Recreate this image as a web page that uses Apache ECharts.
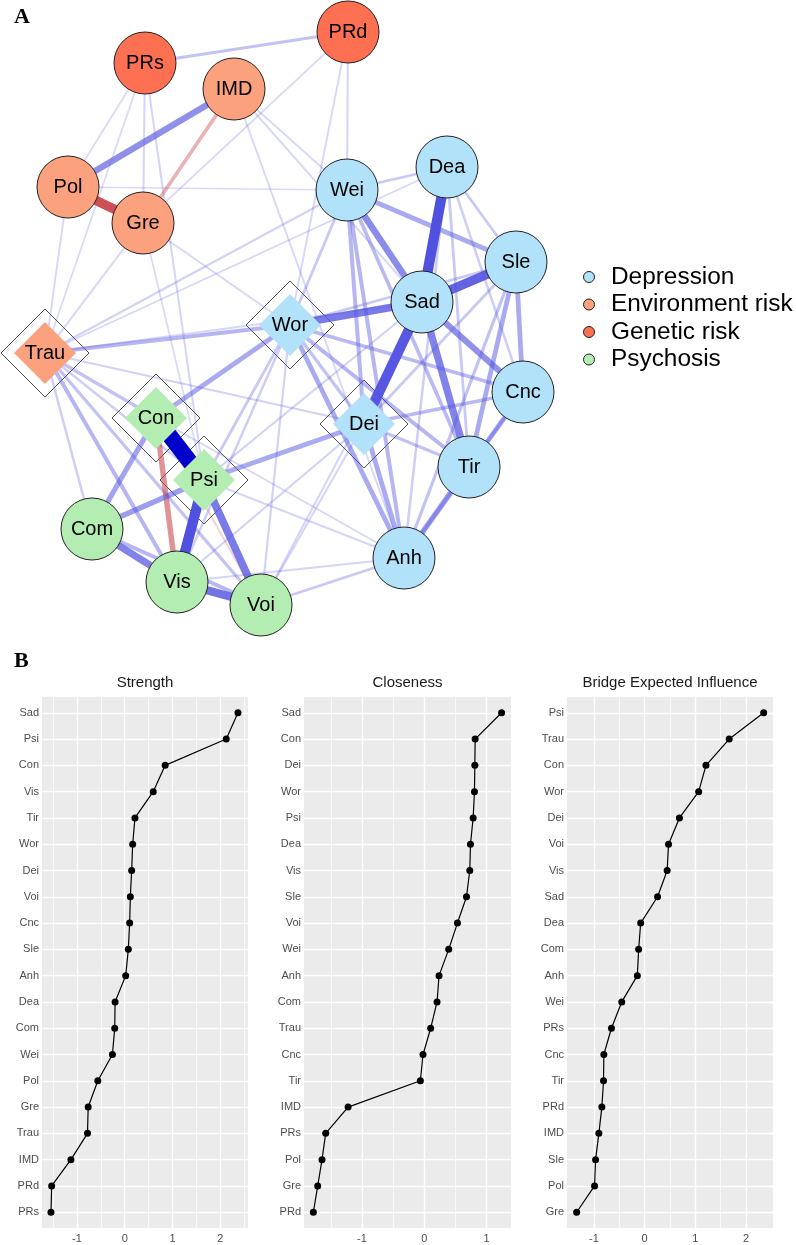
<!DOCTYPE html>
<html><head><meta charset="utf-8">
<script src="https://cdn.jsdelivr.net/npm/echarts@6/dist/echarts.min.js"></script>
<style>html,body{margin:0;padding:0;background:#fff}#c{width:796px;height:1245px}</style>
</head><body><div id="c"></div>
<script>
// ---------- Panel A: network ----------
const nodeNames  = ['PRs','PRd','IMD','Pol','Gre','Wei','Dea','Sle','Sad','Cnc','Tir','Anh','Wor','Dei','Trau','Con','Psi','Com','Vis','Voi'];
const nodeGroups = ['Genetic risk','Genetic risk','Environment risk','Environment risk','Environment risk',
  'Depression','Depression','Depression','Depression','Depression','Depression','Depression','Depression','Depression',
  'Environment risk','Psychosis','Psychosis','Psychosis','Psychosis','Psychosis'];
const layoutX = [145,348,234,68,143,347,447,516,422,523,469,404,290,364,45,156,204,92,177,261];
const layoutY = [63,32,89,187,223,190,167,262,302,392,467,558,325,424,353,418,480,529,582,605];
const bridgeNodes = ['Wor','Dei','Trau','Con','Psi'];
const groupNames = ['Depression','Environment risk','Genetic risk','Psychosis'];

const edgeFrom = ['Con','Sad','Sad','Psi','Sad','Pol','Vis','Psi','Sad','Sad','Com','Wei','Sad','IMD','Con','Com','Com','Psi','Con','Wei',
  'IMD','Tir','Sle','Sle','Cnc','Trau','Trau','Trau','Trau','Wor','Dei','Wei','Wor','Wor','Dei','Dei','Wei','Wei','Wei','Dea',
  'Dea','Dea','Dea','Dea','Sle','Sle','Sle','Cnc','Anh','Anh','Anh','Anh','PRs','PRs','PRs','PRs','PRd','PRd','PRd','IMD',
  'IMD','IMD','Trau','Trau','Trau','Trau','Trau','Trau','Trau','Trau','Pol','Gre','Psi','Vis','Voi','Vis','Voi','Voi','Psi','Con',
  'Gre','Trau','Com','Wor'];
const edgeTo = ['Psi','Dea','Dei','Vis','Sle','Gre','Voi','Voi','Wor','Tir','Vis','Sad','Cnc','Pol','Vis','Psi','Con','Dei','Wor','Sle',
  'Gre','Anh','Cnc','Tir','Tir','Wor','Vis','Voi','Con','Anh','Anh','Anh','Tir','Cnc','Cnc','Tir','Dei','Tir','Wor','Wei',
  'Sle','Cnc','Tir','Anh','Anh','Wor','Dei','Anh','Voi','Vis','Psi','Con','PRd','Gre','Pol','Psi','Wei','Wor','Gre','Wei',
  'Sad','Anh','Pol','Gre','PRs','Wei','Dea','Sad','Dei','Com','Wei','Wor','Wor','Wor','Wor','Dei','Dei','Sad','Sad','Voi',
  'Psi','Psi','Voi','Dei'];
const edgeWeight = [1.0,0.62,0.6,0.62,0.55,-0.55,0.48,0.45,0.45,0.42,0.42,0.38,0.35,0.36,-0.3,0.3,0.28,0.25,0.25,0.25,
  -0.18,0.3,0.25,0.25,0.25,0.2,0.2,0.15,0.15,0.25,0.25,0.2,0.2,0.18,0.18,0.15,0.2,0.18,0.12,0.12,
  0.12,0.1,0.12,0.1,0.15,0.12,0.12,0.15,0.12,0.07,0.07,0.06,0.15,0.07,0.05,0.07,0.07,0.06,0.05,0.06,
  0.06,0.06,0.06,0.07,0.05,0.08,0.06,0.06,0.08,0.1,0.05,0.06,0.12,0.1,0.08,0.08,0.07,0.07,0.08,-0.06,
  0.05,0.1,0.2,0.15];

// ---------- Panel B: centrality ----------
const strengthNames  = ['Sad','Psi','Con','Vis','Tir','Wor','Dei','Voi','Cnc','Sle','Anh','Dea','Com','Wei','Pol','Gre','Trau','IMD','PRd','PRs'];
const strengthValues = [2.37,2.125,0.847,0.597,0.215,0.167,0.146,0.118,0.104,0.076,0.021,-0.201,-0.208,-0.257,-0.562,-0.764,-0.778,-1.125,-1.528,-1.542];
const closenessNames  = ['Sad','Con','Dei','Wor','Psi','Dea','Vis','Sle','Voi','Wei','Anh','Com','Trau','Cnc','Tir','IMD','PRs','Pol','Gre','PRd'];
const closenessValues = [1.239,0.815,0.81,0.804,0.783,0.74,0.729,0.676,0.531,0.391,0.236,0.204,0.102,-0.021,-0.064,-1.223,-1.582,-1.641,-1.71,-1.78];
const beiNames  = ['Psi','Trau','Con','Wor','Dei','Voi','Vis','Sad','Dea','Com','Anh','Wei','PRs','Cnc','Tir','PRd','IMD','Sle','Pol','Gre'];
const beiValues = [2.346,1.667,1.209,1.065,0.686,0.471,0.444,0.255,-0.078,-0.118,-0.144,-0.451,-0.654,-0.804,-0.81,-0.843,-0.902,-0.967,-0.987,-1.34];
const strengthTicks  = [-1,0,1,2];
const closenessTicks = [-1,0,1];
const beiTicks       = [-1,0,1,2];
const panelTitles = ['Strength','Closeness','Bridge Expected Influence'];

// ---------- styling ----------
const FONT = '"Liberation Sans", Arial, sans-serif';
const palette = {'Depression':'#B2E2FA','Environment risk':'#FCA17D','Genetic risk':'#FD7052','Psychosis':'#B3EDB1'};

function edgeStyle(w) {
  const aw = Math.abs(w);
  const a = Math.min(1, 0.15 + 1.4 * aw);
  let rgb;
  if (w >= 0) {
    const t = Math.max(0, (aw - 0.6) / 0.4);
    rgb = [Math.round(85 * (1 - t)), Math.round(85 * (1 - t)), Math.round(225 + (204 - 225) * t)];
  } else {
    rgb = [200, 65, 70];
  }
  return {color: 'rgba(' + rgb.join(',') + ',' + a.toFixed(3) + ')', width: 1 + 15 * aw, opacity: 1, cap: 'round', curveness: 0};
}

const idx = n => nodeNames.indexOf(n);
const graphNodes = nodeNames.map((n, i) => {
  const bridge = bridgeNodes.includes(n);
  return {
    name: n, value: [layoutX[i], layoutY[i]],
    category: groupNames.indexOf(nodeGroups[i]),
    symbol: bridge ? 'diamond' : 'circle', symbolSize: 62,
    itemStyle: bridge ? {borderWidth: 0} : {borderColor: '#222', borderWidth: 1}
  };
});
const order = edgeWeight.map((w, i) => i).sort((a, b) => Math.abs(edgeWeight[a]) - Math.abs(edgeWeight[b]));
const graphLinks = order.map(i => ({source: edgeFrom[i], target: edgeTo[i], lineStyle: edgeStyle(edgeWeight[i])}));
const outerDiamonds = bridgeNodes.map(n => [layoutX[idx(n)], layoutY[idx(n)]]);

const grids = [{left: 0, top: 0, width: 796, height: 640, show: false}];
const xAxes = [{type: 'value', gridIndex: 0, min: 0, max: 796, show: false}];
const yAxes = [{type: 'value', gridIndex: 0, min: 0, max: 640, inverse: true, show: false}];
const series = [
  {type: 'scatter', xAxisIndex: 0, yAxisIndex: 0, data: outerDiamonds, symbol: 'diamond', symbolSize: 88,
   itemStyle: {color: '#fff', borderColor: '#222', borderWidth: 1}, z: 1, silent: true, animation: false},
  {type: 'graph', coordinateSystem: 'cartesian2d', xAxisIndex: 0, yAxisIndex: 0, layout: 'none', z: 3,
   categories: groupNames.map(g => ({name: g, itemStyle: {color: palette[g], borderColor: '#222', borderWidth: 1}})),
   data: graphNodes, links: graphLinks, silent: true, animation: false,
   label: {show: true, position: 'inside', fontSize: 20, color: '#000', fontFamily: FONT},
   emphasis: {disabled: true}}
];

const panels = [
  {names: strengthNames, values: strengthValues, ticks: strengthTicks, min: -1.73, max: 2.58, left: 42, width: 206},
  {names: closenessNames, values: closenessValues, ticks: closenessTicks, min: -1.93, max: 1.39, left: 304, width: 207},
  {names: beiNames, values: beiValues, ticks: beiTicks, min: -1.53, max: 2.53, left: 567, width: 206}
];
const PT = 697, PH = 531;
const graphics = [];
panels.forEach((p, k) => {
  const gi = k + 1;
  const catIdx = p.names.map((n, i) => i);
  grids.push({left: p.left, top: PT, width: p.width, height: PH, show: true, backgroundColor: '#EBEBEB', borderWidth: 0});
  xAxes.push({type: 'value', gridIndex: gi, min: p.min, max: p.max,
    axisLine: {show: false},
    axisTick: {show: true, customValues: p.ticks, length: 4, lineStyle: {color: '#333', width: 1}},
    axisLabel: {customValues: p.ticks, color: '#4D4D4D', fontSize: 11, margin: 5, fontFamily: FONT},
    splitLine: {show: false}});
  yAxes.push({type: 'value', gridIndex: gi, min: -0.6, max: 19.6, inverse: true,
    axisLine: {show: false},
    axisTick: {show: true, customValues: catIdx, length: 4, lineStyle: {color: '#333', width: 1}},
    axisLabel: {customValues: catIdx, color: '#4D4D4D', fontSize: 11, margin: 3, fontFamily: FONT,
      formatter: v => p.names[Math.round(v)]},
    splitLine: {show: false}});
  const mdata = [];
  catIdx.forEach(i => mdata.push({yAxis: i, lineStyle: {width: 1.4}}));
  p.ticks.forEach(t => mdata.push({xAxis: t, lineStyle: {width: 1.4}}));
  for (let m = Math.floor(p.min) + 0.5; m < p.max; m += 1) {
    if (m > p.min + 0.04 && m < p.max - 0.04) mdata.push({xAxis: m, lineStyle: {width: 0.7}});
  }
  series.push({type: 'line', xAxisIndex: gi, yAxisIndex: gi, data: p.values.map((v, i) => [v, i]),
    symbol: 'none', lineStyle: {opacity: 0}, silent: true, z: 1, animation: false,
    markLine: {silent: true, symbol: ['none', 'none'], z: 1, animation: false, label: {show: false},
      lineStyle: {color: '#fff', type: 'solid'}, emphasis: {disabled: true}, data: mdata}});
  series.push({type: 'line', xAxisIndex: gi, yAxisIndex: gi, data: p.values.map((v, i) => [v, i]),
    symbol: 'circle', symbolSize: 7, showSymbol: true, itemStyle: {color: '#000'},
    lineStyle: {color: '#000', width: 1.2}, z: 5, silent: true, animation: false});
  graphics.push({type: 'text', x: p.left + p.width / 2, y: 683,
    style: {text: panelTitles[k], font: '15px ' + FONT, fill: '#1a1a1a', textAlign: 'center', textVerticalAlign: 'middle'}});
});
graphics.push({type: 'text', x: 14, y: 17, style: {text: 'A', font: 'bold 22px "Liberation Serif", serif', fill: '#000', textVerticalAlign: 'middle'}});
graphics.push({type: 'text', x: 14, y: 661, style: {text: 'B', font: 'bold 22px "Liberation Serif", serif', fill: '#000', textVerticalAlign: 'middle'}});

const chart = echarts.init(document.getElementById('c'));
chart.setOption({
  animation: false,
  backgroundColor: '#fff',
  grid: grids, xAxis: xAxes, yAxis: yAxes, series: series, graphic: graphics,
  legend: {data: groupNames, orient: 'vertical', left: 578, top: 260, icon: 'circle',
    itemWidth: 34, itemHeight: 11, itemGap: 3.5, selectedMode: false,
    itemStyle: {borderColor: '#222', borderWidth: 1},
    textStyle: {fontSize: 24.4, color: '#000', fontFamily: FONT, padding: [0, 0, 0, 0]}}
});
</script></body></html>
